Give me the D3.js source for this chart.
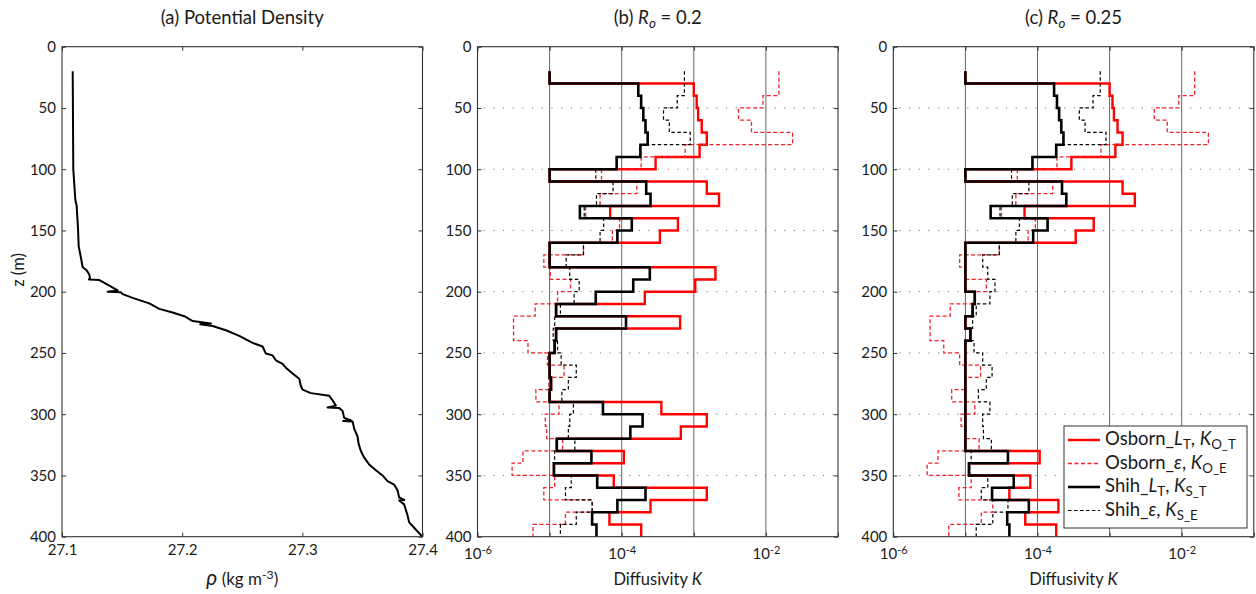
<!DOCTYPE html>
<html>
<head>
<meta charset="utf-8">
<script src="https://cdn.jsdelivr.net/npm/d3@7"></script>
<style>
  body { margin: 0; background: #fff; }
  text { font-family: Lato, "Open Sans", sans-serif; fill: #1a1a1a; }
</style>
</head>
<body>
<svg id="chart" width="1256" height="594"></svg>
<script>
// depth bins (top of each 10 m bin)
var binTop = [20, 30, 40, 50, 60, 70, 80, 90, 100, 110, 120, 130, 140, 150, 160, 170, 180, 190, 200,
              210, 220, 230, 240, 250, 260, 270, 280, 290, 300, 310, 320, 330, 340, 350, 360, 370, 380, 390];
var binSize = 10;

// log10 of diffusivity K, panel (b) Ro = 0.2
var osbornLT_b = [-5.0, -3.0, -2.96, -2.94, -2.89, -2.82, -2.92, -3.53, -5.0, -2.82, -2.65, -4.16, -3.22, -3.47, -5.0, -5.0, -2.70, -2.98, -3.68,
                  -4.91, -3.19, -4.91, -4.93, -5.0, -5.0, -4.98, -5.0, -3.45, -2.82, -3.18, -4.90, -3.97, -4.94, -4.11, -2.82, -3.60, -4.17, -3.73];
var osbornEps_b = [-1.82, -1.82, -2.04, -2.38, -2.20, -1.63, -3.12, -3.73, -4.28, -3.79, -4.30, -4.50, -4.03, -4.13, -4.53, -5.08, -4.99, -4.71, -4.89,
                   -5.20, -5.50, -5.50, -5.30, -5.03, -4.80, -5.01, -5.19, -4.87, -5.06, -5.04, -4.82, -5.37, -5.52, -4.93, -5.08, -4.41, -4.78, -5.23];
var shihLT_b = [-5.0, -3.77, -3.73, -3.70, -3.67, -3.64, -3.74, -4.07, -5.0, -3.66, -3.60, -4.58, -3.86, -4.06, -5.0, -5.0, -3.61, -3.84, -4.36,
                -4.91, -3.94, -4.91, -4.93, -5.0, -5.0, -4.98, -5.0, -4.26, -3.71, -3.88, -4.90, -4.42, -4.94, -4.34, -3.67, -4.06, -4.41, -4.35];
var shihEps_b = [-3.13, -3.13, -3.23, -3.42, -3.34, -3.05, -3.75, -4.07, -4.36, -4.12, -4.35, -4.52, -4.25, -4.30, -4.53, -4.77, -4.72, -4.59, -4.66,
                 -4.85, -4.93, -4.95, -4.89, -4.84, -4.63, -4.74, -4.83, -4.67, -4.72, -4.74, -4.65, -4.93, -4.94, -4.70, -4.78, -4.41, -4.63, -4.85];

// log10 of diffusivity K, panel (c) Ro = 0.25
var osbornLT_c = [-5.0, -3.0, -2.96, -2.94, -2.89, -2.82, -2.92, -3.53, -5.0, -2.82, -2.65, -4.18, -3.22, -3.47, -5.0, -5.0, -5.0, -5.0, -4.87,
                  -4.90, -5.0, -4.93, -5.0, -5.0, -5.0, -5.0, -5.0, -5.0, -5.0, -5.0, -5.0, -3.97, -4.95, -4.10, -4.39, -3.71, -4.17, -3.74];
var osbornEps_c = [-1.82, -1.82, -2.04, -2.38, -2.20, -1.63, -3.12, -3.73, -4.28, -3.79, -4.30, -4.50, -4.03, -4.13, -4.53, -5.08, -4.99, -4.71, -4.87,
                   -5.21, -5.49, -5.49, -5.30, -5.08, -4.79, -5.01, -5.19, -4.87, -5.06, -5.0, -4.81, -5.38, -5.53, -4.92, -5.09, -4.62, -4.78, -5.23];
var shihLT_c = [-5.0, -3.77, -3.73, -3.70, -3.67, -3.64, -3.74, -4.07, -5.0, -3.66, -3.60, -4.65, -3.86, -4.06, -5.0, -5.0, -5.0, -5.0, -4.87,
                -4.90, -5.0, -4.93, -5.0, -5.0, -5.0, -5.0, -5.0, -5.0, -5.0, -5.0, -5.0, -4.41, -4.95, -4.33, -4.63, -4.12, -4.42, -4.39];
var shihEps_c = [-3.13, -3.13, -3.23, -3.42, -3.34, -3.05, -3.75, -4.07, -4.36, -4.12, -4.35, -4.52, -4.25, -4.30, -4.53, -4.76, -4.69, -4.59, -4.66,
                 -4.85, -4.90, -4.94, -4.88, -4.76, -4.63, -4.71, -4.82, -4.66, -4.76, -4.75, -4.64, -4.92, -4.94, -4.69, -4.78, -4.41, -4.62, -4.85];

// potential density profile, panel (a)
var densDepth = [20, 100, 125, 130, 148, 163, 171, 180, 182.5, 186, 189, 190, 190.5, 195, 199, 200, 200.5, 202, 205, 209.5,
                 214, 217, 220, 224, 226, 226.5, 228, 231.5, 236, 241.8, 244.7, 250.5, 252, 256, 259, 262, 266.7, 271, 277, 280,
                 282.8, 285, 288.6, 293, 294.5, 295, 297.4, 303, 305, 305.5, 306, 312, 318, 324, 330, 335.5, 341, 345.8, 350, 354.6,
                 357.5, 362, 368, 370, 370.5, 373.6, 382.4, 388.3, 392.7, 395.6, 400];
var densRho = [27.1089, 27.1094, 27.1111, 27.1122, 27.1133, 27.1139, 27.1155, 27.1172, 27.1205, 27.1227, 27.1233, 27.1225, 27.1311, 27.1394, 27.1463, 27.1380, 27.1491, 27.1505, 27.1588, 27.1726,
               27.1810, 27.1920, 27.2018, 27.2087, 27.2239, 27.2150, 27.2253, 27.2364, 27.2475, 27.2586, 27.2669, 27.2697, 27.2752, 27.2780, 27.2836, 27.2863, 27.2919, 27.2974, 27.2988, 27.3002,
               27.3071, 27.3224, 27.3251, 27.3279, 27.3210, 27.3307, 27.3335, 27.3348, 27.3404, 27.3340, 27.3418, 27.3432, 27.3459, 27.3468, 27.3487, 27.3515, 27.3556, 27.3612, 27.3667, 27.3709,
               27.3764, 27.3792, 27.3806, 27.3847, 27.3806, 27.3847, 27.3875, 27.3889, 27.3931, 27.3958, 27.4000];

var zTicks = [0, 50, 100, 150, 200, 250, 300, 350, 400];
var zGrid = [50, 100, 150, 200, 250, 300, 350];
var rhoTicks = [27.1, 27.2, 27.3, 27.4];
var kTicks = [1e-6, 1e-5, 1e-4, 1e-3, 1e-2, 1e-1];
var kGrid = [1e-5, 1e-4, 1e-3, 1e-2];
var kLabelled = [1e-6, 1e-4, 1e-2];

var svg = d3.select("#chart");
var plotTop = 46.7, plotH = 490, plotW = 360.5;
var panelX = [62, 477.5, 893.3];

var y = d3.scaleLinear().domain([0, 400]).range([plotTop, plotTop + plotH]);

// draws inward ticks on all four sides plus the box
function frame(g, x, xTickVals, xFormat, pad) {
  g.append("g")
    .attr("transform", "translate(0," + (plotTop + plotH) + ")")
    .call(d3.axisBottom(x).tickValues(xTickVals).tickSize(-4).tickPadding(pad).tickFormat(xFormat))
    .call(function(a) { a.select(".domain").remove(); });
  g.append("g")
    .attr("transform", "translate(0," + plotTop + ")")
    .call(d3.axisTop(x).tickValues(xTickVals).tickSize(-4).tickFormat(""))
    .call(function(a) { a.select(".domain").remove(); });
  g.append("g")
    .attr("transform", "translate(" + x.range()[0] + ",0)")
    .call(d3.axisLeft(y).tickValues(zTicks).tickSize(-4).tickPadding(6))
    .call(function(a) { a.select(".domain").remove(); });
  g.append("g")
    .attr("transform", "translate(" + x.range()[1] + ",0)")
    .call(d3.axisRight(y).tickValues(zTicks).tickSize(-4).tickFormat(""))
    .call(function(a) { a.select(".domain").remove(); });
  g.selectAll(".tick line").attr("stroke", "#333");
  g.selectAll(".tick text").style("font-size", "15px").style("font-family", "Lato, 'Open Sans', sans-serif").attr("fill", "#1a1a1a");
  g.append("rect")
    .attr("x", x.range()[0]).attr("y", plotTop)
    .attr("width", plotW).attr("height", plotH)
    .attr("fill", "none").attr("stroke", "#333").attr("stroke-width", 1.1);
}

// rich text: parts with italic / subscript / superscript
function rich(t, parts, size) {
  var shift = 0;
  parts.forEach(function(p) {
    var target = p.sub ? 4 : (p.sup ? -6 : 0);
    var ts = t.append("tspan").text(p.t).attr("dy", target - shift);
    shift = target;
    if (p.i) ts.style("font-style", "italic");
    if (p.sub || p.sup) ts.style("font-size", (size * 0.72) + "px");
    if (p.size) ts.style("font-size", p.size + "px");
  });
}

// ---------- panel (a) ----------
var xa = d3.scaleLinear().domain([27.1, 27.4]).range([panelX[0], panelX[0] + plotW]);
var ga = svg.append("g");
var densPts = densDepth.map(function(z, i) { return [densRho[i], z]; });
ga.append("path")
  .datum(densPts)
  .attr("d", d3.line().x(function(d) { return xa(d[0]); }).y(function(d) { return y(d[1]); }))
  .attr("fill", "none").attr("stroke", "#000").attr("stroke-width", 2).attr("stroke-linejoin", "round");
frame(ga, xa, rhoTicks, d3.format(".1f"), 8);

ga.append("text").attr("x", panelX[0] + plotW / 2).attr("y", 24).attr("text-anchor", "middle")
  .style("font-size", "18.5px").text("(a) Potential Density");
var ra = ga.append("text").attr("x", panelX[0] + plotW / 2).attr("y", 585).attr("text-anchor", "middle").style("font-size", "17px");
rich(ra, [{t: "ρ", i: true, size: 21}, {t: " (kg m"}, {t: "-3", sup: true}, {t: ")"}], 17);
ga.append("text").attr("transform", "translate(24,270) rotate(-90)").attr("text-anchor", "middle")
  .style("font-size", "16.5px").text("z (m)");

// ---------- panels (b), (c) ----------
var panels = [
  {x0: panelX[1], title: "0.2", oLT: osbornLT_b, oE: osbornEps_b, sLT: shihLT_b, sE: shihEps_b, letter: "(b) "},
  {x0: panelX[2], title: "0.25", oLT: osbornLT_c, oE: osbornEps_c, sLT: shihLT_c, sE: shihEps_c, letter: "(c) "}
];

function stepPts(vals) {
  var pts = [];
  vals.forEach(function(v, i) {
    pts.push([v, binTop[i]]);
    pts.push([v, binTop[i] + binSize]);
  });
  return pts;
}

var series = [
  {key: "oLT", color: "#ff0000", width: 2.4, dash: null},
  {key: "oE", color: "#f0222a", width: 1.3, dash: "4,2.5"},
  {key: "sLT", color: "#000", width: 2.6, dash: null},
  {key: "sE", color: "#000", width: 1.2, dash: "3.5,2.5"}
];

panels.forEach(function(p, pi) {
  var x = d3.scaleLog().domain([1e-6, 1e-1]).range([p.x0, p.x0 + plotW]);
  var g = svg.append("g");

  g.selectAll(".vgrid").data(kGrid).enter().append("line")
    .attr("x1", function(d) { return x(d); }).attr("x2", function(d) { return x(d); })
    .attr("y1", plotTop).attr("y2", plotTop + plotH)
    .attr("stroke", "#555").attr("stroke-width", 0.9);
  g.selectAll(".hgrid").data(zGrid).enter().append("line")
    .attr("x1", p.x0 + 6).attr("x2", p.x0 + plotW - 4)
    .attr("y1", function(d) { return y(d); }).attr("y2", function(d) { return y(d); })
    .attr("stroke", "#777").attr("stroke-width", 1).attr("stroke-dasharray", "1.2,8.5");

  var line = d3.line()
    .x(function(d) { return x(Math.pow(10, d[0])); })
    .y(function(d) { return y(d[1]); });

  series.forEach(function(s) {
    g.append("path")
      .datum(stepPts(p[s.key]))
      .attr("d", line)
      .attr("fill", "none")
      .attr("stroke", s.color)
      .attr("stroke-width", s.width)
      .attr("stroke-dasharray", s.dash)
      .attr("stroke-linejoin", "miter");
  });

  frame(g, x, kTicks, function(d) { return kLabelled.indexOf(d) >= 0 ? "10" : ""; }, 12);
  g.selectAll(".tick text").filter(function(d) { return kLabelled.indexOf(d) >= 0 && this.textContent === "10"; })
    .each(function(d) {
      d3.select(this).append("tspan").attr("dy", -5).style("font-size", "11px")
        .text(String(Math.round(Math.log10(d))));
    });

  var title = g.append("text").attr("x", p.x0 + plotW / 2).attr("y", 24).attr("text-anchor", "middle").style("font-size", "18.5px");
  rich(title, [{t: p.letter}, {t: "R", i: true}, {t: "o", sub: true, i: true}, {t: " = " + p.title}], 18.5);
  var xl = g.append("text").attr("x", p.x0 + plotW / 2).attr("y", 585).attr("text-anchor", "middle").style("font-size", "16.5px");
  rich(xl, [{t: "Diffusivity "}, {t: "K", i: true}], 16.5);

  if (pi === 1) {
    var lg = g.append("g");
    lg.append("rect").attr("x", 1064).attr("y", 426).attr("width", 183).attr("height", 102)
      .attr("fill", "#fff").attr("stroke", "#333").attr("stroke-width", 1);
    var items = [
      [{t: "Osborn_"}, {t: "L", i: true}, {t: "T", sub: true}, {t: ", "}, {t: "K", i: true}, {t: "O_T", sub: true}],
      [{t: "Osborn_"}, {t: "ε", i: true}, {t: ", "}, {t: "K", i: true}, {t: "O_E", sub: true}],
      [{t: "Shih_"}, {t: "L", i: true}, {t: "T", sub: true}, {t: ", "}, {t: "K", i: true}, {t: "S_T", sub: true}],
      [{t: "Shih_"}, {t: "ε", i: true}, {t: ", "}, {t: "K", i: true}, {t: "S_E", sub: true}]
    ];
    items.forEach(function(parts, i) {
      var s = series[i];
      var yy = 440 + i * 23.5;
      lg.append("line").attr("x1", 1068).attr("x2", 1100).attr("y1", yy).attr("y2", yy)
        .attr("stroke", s.color).attr("stroke-width", s.width).attr("stroke-dasharray", s.dash);
      var t = lg.append("text").attr("x", 1105).attr("y", yy + 5).style("font-size", "18.5px");
      rich(t, parts, 18.5);
    });
  }
});
</script>
</body>
</html>
